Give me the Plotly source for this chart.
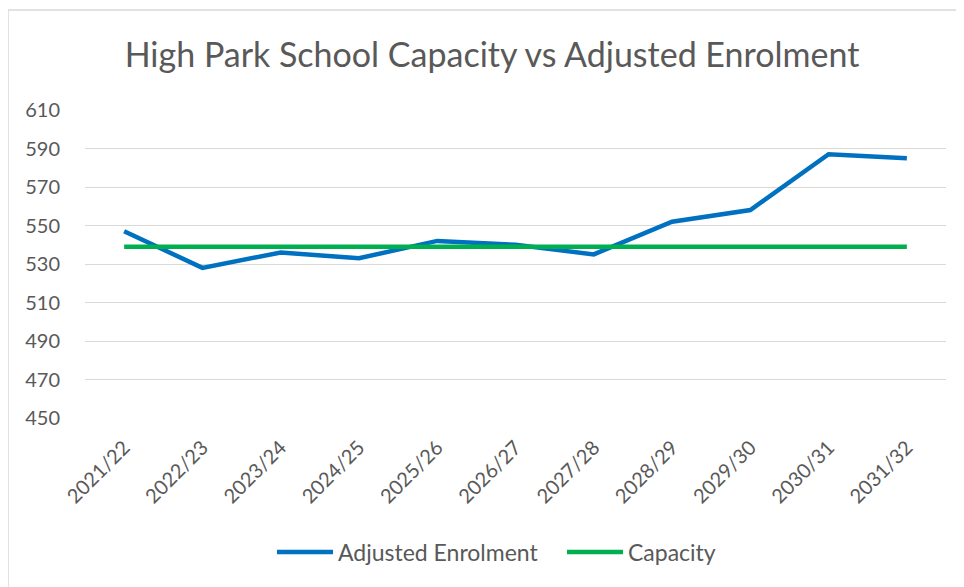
import plotly.graph_objects as go

years = ["2021/22", "2022/23", "2023/24", "2024/25", "2025/26", "2026/27",
         "2027/28", "2028/29", "2029/30", "2030/31", "2031/32"]
adjusted_enrolment = [547, 528, 536, 533, 542, 540, 535, 552, 558, 587, 585]
capacity = [539, 539, 539, 539, 539, 539, 539, 539, 539, 539, 539]
y_ticks = [450, 470, 490, 510, 530, 550, 570, 590, 610]

FONT = "Lato, 'Open Sans', sans-serif"
TXT = "#595959"

fig = go.Figure()
fig.add_trace(go.Scatter(x=years, y=adjusted_enrolment, mode="lines",
                         name="Adjusted Enrolment",
                         line=dict(color="#0070C0", width=4.5)))
fig.add_trace(go.Scatter(x=years, y=capacity, mode="lines", name="Capacity",
                         line=dict(color="#00B050", width=4.5)))

# page body has an 8px margin; work in screen coordinates and offset
OFF = 8
W, H = 964, 587
# plot area in screen pixels
SL, SR, ST, SB = 85, 946, 110, 418
L, T = SL - OFF, ST - OFF
R = W - (SR - OFF)
B = H - (SB - OFF)
pw, ph = SR - SL, SB - ST

def px(x):
    return (x - SL) / pw

def py(y):
    return (SB - y) / ph

fig.update_layout(
    width=W, height=H,
    margin=dict(l=L, r=R, t=T, b=B, autoexpand=False),
    paper_bgcolor="white", plot_bgcolor="white",
    font=dict(family=FONT, color=TXT),
    title=dict(text="High Park School Capacity vs Adjusted Enrolment",
               x=(492 - OFF) / W, xanchor="center", y=1 - (55 - OFF) / H,
               yanchor="middle",
               font=dict(size=34, color=TXT, family=FONT)),
    xaxis=dict(type="category", range=[-0.5, len(years) - 0.5], automargin=False,
               tickangle=-45, tickfont=dict(size=20, color=TXT),
               showgrid=False, showline=False, zeroline=False,
               ticks="outside", ticklen=9, tickcolor="rgba(0,0,0,0)"),
    yaxis=dict(range=[450, 610], tickvals=y_ticks, automargin=False,
               tickfont=dict(size=20, color=TXT),
               showgrid=True, gridcolor="#D9D9D9", gridwidth=1.3,
               zeroline=False, showline=False, ticks="outside", ticklen=20,
               tickcolor="rgba(0,0,0,0)"),
    legend=dict(orientation="h", x=px(272), xanchor="left", y=py(552),
                yanchor="middle", font=dict(size=23, color=TXT),
                itemwidth=56, tracegroupgap=0, entrywidth=219),
    showlegend=True,
    shapes=[dict(type="rect", xref="paper", yref="paper",
                 x0=px(8), x1=px(985), y0=py(610), y1=py(10),
                 line=dict(color="#D9D9D9", width=1.5), layer="below")],
)

fig.write_html("out.html")
